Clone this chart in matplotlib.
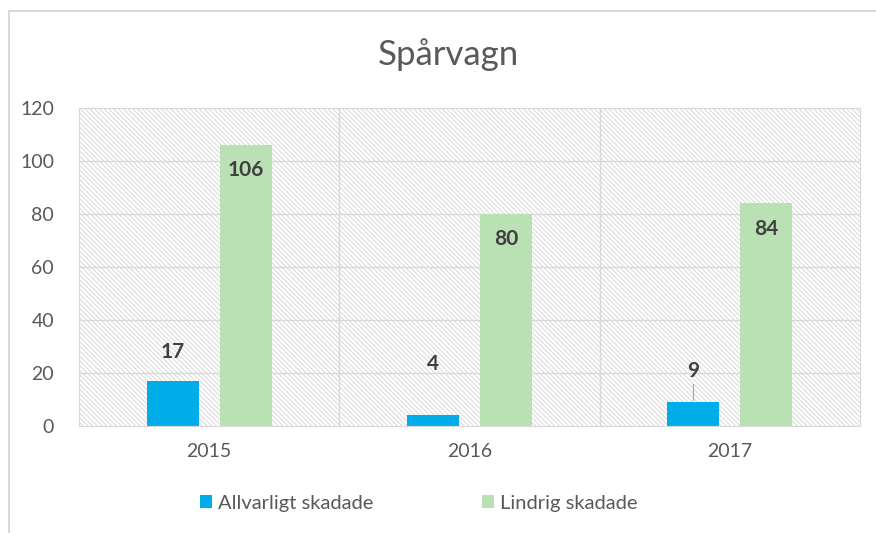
import matplotlib.pyplot as plt
import matplotlib.patches as mpatches
import numpy as np

years = ["2015", "2016", "2017"]
allvarligt = [17, 4, 9]
lindrig = [106, 80, 84]
# label offsets (points) above the blue bars
blue_label_off = [14, 30, 15]

plt.rcParams['font.family'] = ['Lato', 'DejaVu Sans']
plt.rcParams['hatch.color'] = '#dcdcdc'
plt.rcParams['hatch.linewidth'] = 0.8

W, H = 876, 533
fig = plt.figure(figsize=(W / 100, H / 100), dpi=100)

# outer chart border (left and top only visible)
fig.add_artist(mpatches.Rectangle((9 / W, -0.1), 1.2, (H - 11) / H + 0.1,
                                  transform=fig.transFigure, fill=False,
                                  edgecolor='#d9d9d9', linewidth=1.5))

left, right, top, bottom = 79, 860, 108, 426
ax = fig.add_axes([left / W, 1 - bottom / H, (right - left) / W, (bottom - top) / H])

x = np.arange(len(years))
bw = 0.2
off = 0.14

# hatched background
ax.add_patch(mpatches.Rectangle((-0.5, 0), 3, 120, facecolor='white',
                                edgecolor='#dcdcdc', hatch='\\' * 7, linewidth=0, zorder=0))

ax.set_xlim(-0.5, 2.5)
ax.set_ylim(0, 120)
for y in range(20, 120, 20):
    ax.axhline(y, color='#d9d9d9', linewidth=1, zorder=1)
for xv in [0.5, 1.5]:
    ax.axvline(xv, color='#d9d9d9', linewidth=1, zorder=1)

b1 = ax.bar(x - off, allvarligt, bw, color='#00ADE8', zorder=2, label='Allvarligt skadade')
b2 = ax.bar(x + off, lindrig, bw, color='#B9E1B3', zorder=2, label='Lindrig skadade')

for xi, v, o in zip(x, allvarligt, blue_label_off):
    ax.annotate(str(v), (xi - off, v), xytext=(0, o), textcoords='offset points',
                ha='center', va='bottom', fontsize=15, fontweight='bold', color='#404040')
# leader line for 9
ax.plot([2 - off, 2 - off], [9.8, 16.0], color='#a6a6a6', linewidth=0.8, zorder=3)

for xi, v in zip(x, lindrig):
    ax.annotate(str(v), (xi + off, v), xytext=(0, -11), textcoords='offset points',
                ha='center', va='top', fontsize=15, fontweight='bold', color='#404040')

for s in ax.spines.values():
    s.set_color('#d9d9d9')
ax.set_xticks(x)
ax.set_xticklabels(years)
ax.set_yticks(range(0, 121, 20))
ax.tick_params(length=0, labelsize=14, colors='#595959', pad=12)
ax.tick_params(axis='y', pad=18)

fig.text(448 / W, 1 - 55 / H, "Spårvagn", ha='center', va='center',
         fontsize=25, color='#595959')

fig.legend(handles=[b1, b2], loc='center', bbox_to_anchor=(419 / W, 1 - 503 / H),
           ncol=2, frameon=False, fontsize=14.5, labelcolor='#595959',
           handlelength=0.6, handleheight=0.6, columnspacing=5.4, handletextpad=0.3)

fig.savefig("out.png", dpi=100)
